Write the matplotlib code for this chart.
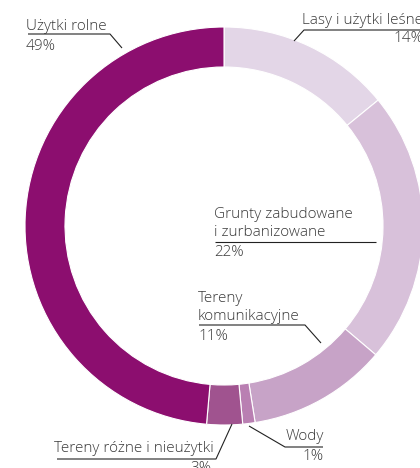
import matplotlib.pyplot as plt

# land use shares, clockwise from 12 o'clock
categories = ["Lasy i użytki leśne", "Grunty zabudowane i zurbanizowane",
              "Tereny komunikacyjne", "Wody", "Tereny różne i nieużytki",
              "Użytki rolne"]
shares = [14.1, 22.1, 11.3, 1.0, 2.9, 48.6]
pct_labels = ["14%", "22%", "11%", "1%", "3%", "49%"]
colors = ["#e3d6e7", "#d8c1da", "#c7a3c7", "#b97fb2", "#a0538f", "#8c0e6f"]

W, H = 420, 468
TXT = "#3a3a3a"
FONT = ["Open Sans", "DejaVu Sans"]
FS = 11.0


def py(y):
    # pixel row -> data y (origin bottom-left)
    return H - y


fig = plt.figure(figsize=(W / 100, H / 100), dpi=100)
ax = fig.add_axes([0, 0, 1, 1])

ax.pie(shares, colors=colors, startangle=90, counterclock=False,
       center=(224, py(226)), radius=199, frame=True,
       wedgeprops=dict(width=40, edgecolor="white", linewidth=0.8))
ax.set_xlim(0, W)
ax.set_ylim(0, H)
ax.set_aspect("equal")
ax.axis("off")


def txt(x, y, s, ha="left"):
    ax.text(x, py(y), s, ha=ha, va="center", fontsize=FS, color=TXT,
            family=FONT, fontweight="light")


def line(xs, ys):
    ax.plot(xs, [py(v) for v in ys], color="#222222", lw=0.8,
            solid_capstyle="butt")


# Użytki rolne
txt(26, 26, categories[5])
txt(26, 46, pct_labels[5])
line([28, 110, 122], [34, 34, 48])

# Lasy i użytki leśne
txt(423, 20, categories[0], ha="right")
txt(423, 39, pct_labels[0], ha="right")
line([420, 304, 294], [30, 30, 41])

# Grunty zabudowane i zurbanizowane
txt(214, 214, "Grunty zabudowane")
txt(214, 233, "i zurbanizowane")
txt(214, 252, pct_labels[1])
line([215, 376], [242, 242])

# Tereny komunikacyjne
txt(198, 298, "Tereny")
txt(198, 317, "komunikacyjne")
txt(198, 337, pct_labels[2])
line([199, 305, 321], [325, 325, 343])

# Wody
txt(324, 437, categories[3], ha="right")
txt(324, 456, pct_labels[3], ha="right")
line([249, 285, 323], [426, 447, 447])

# Tereny różne i nieużytki
txt(214, 448, categories[4], ha="right")
txt(211, 469, pct_labels[4], ha="right")
line([57, 216, 232], [459, 459, 424])

fig.savefig("out.png", dpi=100)
